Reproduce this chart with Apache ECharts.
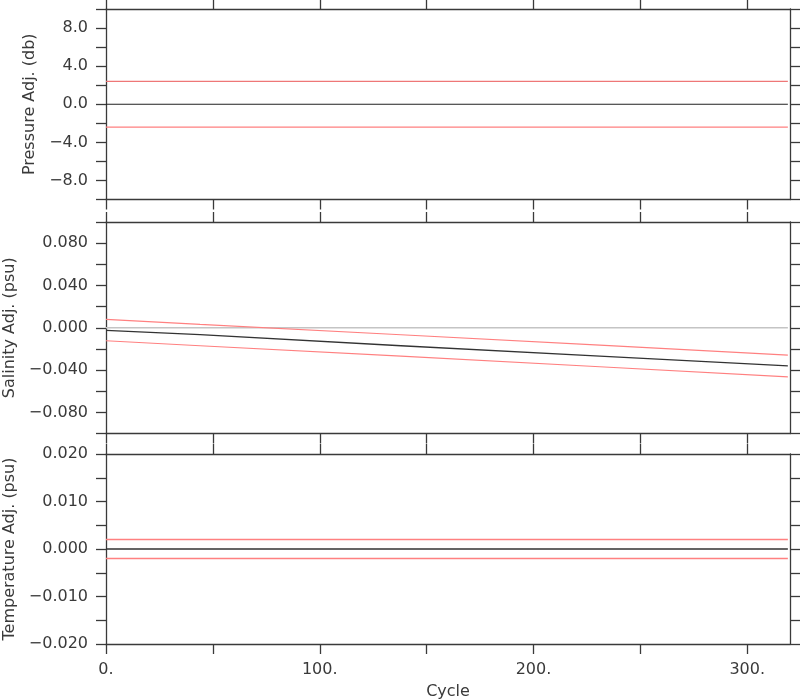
<!DOCTYPE html>
<html>
<head>
<meta charset="utf-8">
<script src="https://cdn.jsdelivr.net/npm/echarts@6/dist/echarts.min.js"></script>
<style>html,body{margin:0;padding:0;background:#fff}#c{width:800px;height:700px}</style>
</head>
<body>
<div id="c"></div>
<script>
// ---- data ----
const cycles = [0, 44, 138, 231, 319];
const pressureAdj = [0, 0, 0, 0, 0];
const pressureUpper = [2.4, 2.4, 2.4, 2.4, 2.4];
const pressureLower = [-2.4, -2.4, -2.4, -2.4, -2.4];
const salinityZero = [0, 0, 0, 0, 0];
const salinityAdj = [-0.0025, -0.0065, -0.0170, -0.0268, -0.0360];
const salinityUpper = [0.0080, 0.0032, -0.0066, -0.0164, -0.0258];
const salinityLower = [-0.0123, -0.0170, -0.0268, -0.0369, -0.0464];
const temperatureAdj = [0, 0, 0, 0, 0];
const temperatureUpper = [0.002, 0.002, 0.002, 0.002, 0.002];
const temperatureLower = [-0.002, -0.002, -0.002, -0.002, -0.002];
const xTickValues = [0, 50, 100, 150, 200, 250, 300];
const xLabelValues = [0, 100, 200, 300];
const pressureLabelValues = [-8, -4, 0, 4, 8];
const salinityLabelValues = [-0.08, -0.04, 0, 0.04, 0.08];
const temperatureLabelValues = [-0.02, -0.01, 0, 0.01, 0.02];
const yNames = ['Pressure Adj. (db)', 'Salinity Adj. (psu)', 'Temperature Adj. (psu)'];
const xName = 'Cycle';

const pair = (ys) => cycles.map((c, i) => [c, ys[i]]);
const AX = '#3a3a3a';
const FONT = 'DejaVu Sans';
const fmtNum = (v, d) => (v < 0 ? '\u2212' : '') + Math.abs(v).toFixed(d);

const grids = [
  {left: 106, right: 10, top: 9, height: 190.5, outerBoundsMode: 'none', containLabel: false},
  {left: 106, right: 10, top: 222, height: 211.5, outerBoundsMode: 'none', containLabel: false},
  {left: 106, right: 10, top: 454, height: 190, outerBoundsMode: 'none', containLabel: false}
];

const xAxes = [];
for (let g = 0; g < 3; g++) {
  ['bottom', 'top'].forEach(pos => {
    const showLabel = (g === 2 && pos === 'bottom');
    xAxes.push({
      type: 'value', gridIndex: g, position: pos, min: 0, max: 320, interval: 50,
      axisLine: {show: true, onZero: false, lineStyle: {color: AX, width: 1.3}},
      axisTick: {show: true, length: 10, customValues: xTickValues, lineStyle: {color: AX, width: 1.3}},
      axisLabel: showLabel ? {show: true, customValues: xLabelValues, margin: 18, color: AX,
        fontFamily: FONT, fontSize: 16, formatter: v => v + '.'} : {show: false},
      splitLine: {show: false},
      name: showLabel ? xName : '', nameLocation: 'middle', nameGap: 40,
      nameTextStyle: {color: AX, fontFamily: FONT, fontSize: 16}
    });
  });
}

const ySpecs = [
  {min: -10, max: 10, interval: 2, labels: pressureLabelValues, dec: 1, gap: 64},
  {min: -0.1, max: 0.1, interval: 0.02, labels: salinityLabelValues, dec: 3, gap: 86},
  {min: -0.02, max: 0.02, interval: 0.005, labels: temperatureLabelValues, dec: 3, gap: 86}
];
const yAxes = [];
ySpecs.forEach((s, g) => {
  ['left', 'right'].forEach(pos => {
    const left = pos === 'left';
    yAxes.push({
      type: 'value', gridIndex: g, position: pos, min: s.min, max: s.max, interval: s.interval,
      axisLine: {show: true, onZero: false, lineStyle: {color: AX, width: 1.3}},
      axisTick: {show: true, length: 10, lineStyle: {color: AX, width: 1.3}},
      axisLabel: left ? {show: true, customValues: s.labels, margin: 18, color: AX,
        fontFamily: FONT, fontSize: 16, formatter: v => fmtNum(v, s.dec)} : {show: false},
      splitLine: {show: false},
      name: left ? yNames[g] : '', nameLocation: 'middle', nameGap: s.gap, nameRotate: 90,
      nameTextStyle: {color: AX, fontFamily: FONT, fontSize: 16}
    });
  });
});

const line = (g, data, color, width, z) => ({
  type: 'line', xAxisIndex: 2 * g, yAxisIndex: 2 * g, data: pair(data),
  showSymbol: false, symbol: 'none', silent: true, animation: false, z: z || 2,
  lineStyle: {color: color, width: width}
});
const RED = '#ff8080';
const series = [
  line(0, pressureUpper, '#ee7777', 1.2),
  line(0, pressureLower, RED, 1.3),
  line(0, pressureAdj, '#222', 1.2, 3),
  line(1, salinityZero, '#c4c4c4', 1.6, 1),
  line(1, salinityUpper, RED, 1.2),
  line(1, salinityLower, RED, 1.2),
  line(1, salinityAdj, '#333', 1.3, 3),
  line(2, temperatureUpper, RED, 1.3),
  line(2, temperatureLower, RED, 1.3),
  line(2, temperatureAdj, '#333', 1.5, 3)
];

const chart = echarts.init(document.getElementById('c'), null, {renderer: 'canvas'});
chart.setOption({
  backgroundColor: '#fff',
  animation: false,
  grid: grids,
  xAxis: xAxes,
  yAxis: yAxes,
  series: series
});
</script>
</body>
</html>
